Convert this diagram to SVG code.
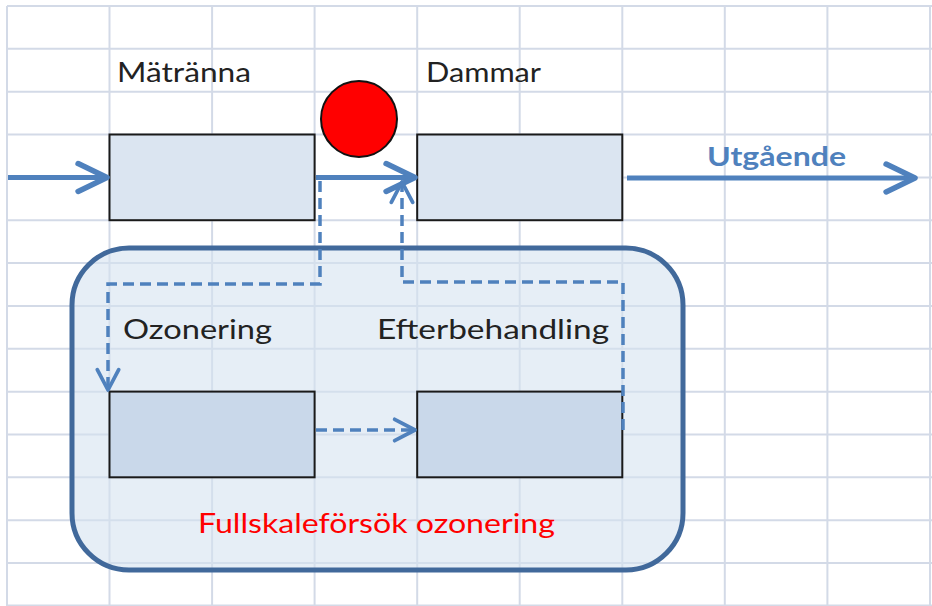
<svg xmlns="http://www.w3.org/2000/svg" width="932" height="606" viewBox="0 0 932 606">
<style>
.grid line{stroke:#d3dae7;stroke-width:2}
.box{stroke:#1a1a1a;stroke-width:2}
.outer{fill:#dbe5f1}
.inner{fill:#c9d8ea}
.lbl{font-family:Lato,"Open Sans","Liberation Sans",sans-serif;font-size:27px;fill:#222}
.main{fill:none;stroke:#4f81bd;stroke-width:5}
.dash{fill:none;stroke:#4f81bd;stroke-width:3.5;stroke-dasharray:11 6}
</style>
<defs>
<marker id="ah" markerUnits="userSpaceOnUse" markerWidth="40" markerHeight="40" viewBox="-32 -16 36 32" refX="0" refY="0" orient="auto" overflow="visible">
<path d="M-26,-12.5 L0,0 L-26,12.5" fill="none" stroke="#4f81bd" stroke-width="5" stroke-linecap="round" stroke-linejoin="round"/>
</marker>
<marker id="ahd" markerUnits="userSpaceOnUse" markerWidth="30" markerHeight="30" viewBox="-24 -14 28 28" refX="0" refY="0" orient="auto" overflow="visible">
<path d="M-19,-10 L0,0 L-19,10" fill="none" stroke="#4f81bd" stroke-width="3.5" stroke-linecap="round" stroke-linejoin="round"/>
</marker>
</defs>
<rect width="932" height="606" fill="#ffffff"/>
<g class="grid">
<line x1="7" y1="6" x2="7" y2="606"/>
<line x1="109.5" y1="6" x2="109.5" y2="606"/>
<line x1="212.1" y1="6" x2="212.1" y2="606"/>
<line x1="314.6" y1="6" x2="314.6" y2="606"/>
<line x1="417.2" y1="6" x2="417.2" y2="606"/>
<line x1="519.7" y1="6" x2="519.7" y2="606"/>
<line x1="622.3" y1="6" x2="622.3" y2="606"/>
<line x1="724.8" y1="6" x2="724.8" y2="606"/>
<line x1="827.4" y1="6" x2="827.4" y2="606"/>
<line x1="930" y1="6" x2="930" y2="606"/>
<line x1="7" y1="6" x2="932" y2="6"/>
<line x1="7" y1="48.85" x2="932" y2="48.85"/>
<line x1="7" y1="91.7" x2="932" y2="91.7"/>
<line x1="7" y1="134.55" x2="932" y2="134.55"/>
<line x1="7" y1="177.4" x2="932" y2="177.4"/>
<line x1="7" y1="220.25" x2="932" y2="220.25"/>
<line x1="7" y1="263.1" x2="932" y2="263.1"/>
<line x1="7" y1="305.95" x2="932" y2="305.95"/>
<line x1="7" y1="348.8" x2="932" y2="348.8"/>
<line x1="7" y1="391.65" x2="932" y2="391.65"/>
<line x1="7" y1="434.5" x2="932" y2="434.5"/>
<line x1="7" y1="477.35" x2="932" y2="477.35"/>
<line x1="7" y1="520.2" x2="932" y2="520.2"/>
<line x1="7" y1="563.05" x2="932" y2="563.05"/>
<line x1="7" y1="605.5" x2="932" y2="605.5"/>
</g>
<g id="fullskale">
<rect x="72" y="248" width="611" height="322" rx="57" ry="57" fill="#d6e2f0" fill-opacity="0.6" stroke="#41699b" stroke-width="5"/>
<text x="198" y="533" font-family="Lato,'Open Sans','Liberation Sans',sans-serif" font-size="27" fill="#ff0000" textLength="357" lengthAdjust="spacingAndGlyphs">Fullskaleförsök ozonering</text>
</g>
<g id="matranna">
<rect class="box outer" x="109.5" y="134.5" width="205.1" height="85.7"/>
<text class="lbl" x="117" y="82" textLength="134" lengthAdjust="spacingAndGlyphs">Mätränna</text>
</g>
<g id="dammar">
<rect class="box outer" x="417.2" y="134.5" width="205.1" height="85.7"/>
<text class="lbl" x="426" y="82" textLength="115" lengthAdjust="spacingAndGlyphs">Dammar</text>
</g>
<g id="ozonering">
<rect class="box inner" x="109.5" y="391.6" width="205.1" height="85.7"/>
<text class="lbl" x="123" y="339" textLength="149" lengthAdjust="spacingAndGlyphs">Ozonering</text>
</g>
<g id="efterbehandling">
<rect class="box inner" x="417.2" y="391.6" width="205.1" height="85.7"/>
<text class="lbl" x="377" y="339" textLength="232" lengthAdjust="spacingAndGlyphs">Efterbehandling</text>
</g>
<g id="indicator">
<circle cx="359" cy="119" r="38" fill="#ff0000" stroke="#111" stroke-width="2"/>
</g>
<g id="connectors">
<path class="main" d="M8,177.5 H107" marker-end="url(#ah)"/>
<path class="main" d="M316,177.5 H415" marker-end="url(#ah)"/>
<path class="main" d="M627,178 H915" marker-end="url(#ah)"/>
<text x="707" y="166" font-family="Lato,'Open Sans','Liberation Sans',sans-serif" font-size="27" font-weight="bold" fill="#4f81bd" textLength="139" lengthAdjust="spacingAndGlyphs">Utgående</text>
<path class="dash" d="M320,181 V284 H108 V390" marker-end="url(#ahd)"/>
<path class="dash" d="M316,430 H415" marker-end="url(#ahd)"/>
<path class="dash" d="M623,430 V282 H402 V182" marker-end="url(#ahd)"/>
</g>
</svg>
